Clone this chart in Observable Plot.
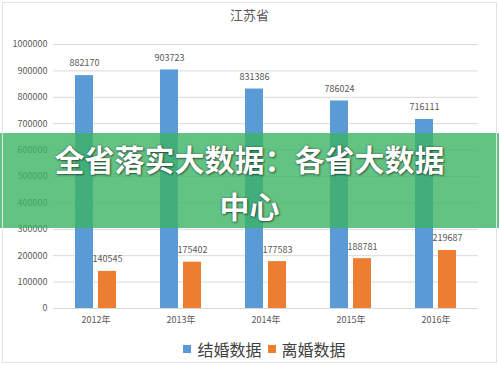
<!DOCTYPE html>
<html>
<head>
<meta charset="utf-8">
<script src="https://cdn.jsdelivr.net/npm/d3@7"></script>
<script src="https://cdn.jsdelivr.net/npm/@observablehq/plot@0.6"></script>
<style>
  html, body { margin: 0; padding: 0; background: #fff; }
  #wrap { position: relative; width: 499px; height: 365px; overflow: hidden; font-family: "Noto Sans CJK SC", "Noto Sans", sans-serif; }
  #frame { position: absolute; left: 2px; top: 2px; right: 2px; bottom: 2px; border: 1px solid #e3e3e3; pointer-events: none; }
  #title { height: 28px; line-height: 30px; text-align: center; font-size: 13px; color: #595959; }
  #legend { height: 32px; display: flex; justify-content: center; align-items: center; gap: 6px; font-size: 16px; color: #404040; padding-left: 30px; }
  #legend .sw { display: inline-block; width: 8px; height: 8px; margin-right: 6px; }
  #legend .item { display: flex; align-items: center; }
  #banner { position: absolute; left: 0; top: 133px; width: 499px; height: 95px; background: rgba(60,180,100,0.8); color: #fff; font-weight: bold; font-size: 30px; text-align: center; text-shadow: 0 0 2px rgba(0,0,0,0.55), 1px 1px 2px rgba(0,0,0,0.45); }
  #banner div { height: 47px; line-height: 50px; }
</style>
</head>
<body>
<div id="wrap">
  <div id="title"></div>
  <div id="chart"></div>
  <div id="legend"></div>
  <div id="banner"></div>
  <div id="frame"></div>
</div>
<script>
const chartTitle = "江苏省";
const years = ["2012年", "2013年", "2014年", "2015年", "2016年"];
const seriesNames = ["结婚数据", "离婚数据"];
const marriages = [882170, 903723, 831386, 786024, 716111];
const divorces = [140545, 175402, 177583, 188781, 219687];
const yTicks = [0, 100000, 200000, 300000, 400000, 500000, 600000, 700000, 800000, 900000, 1000000];
const colors = ["#5b9bd5", "#ed7d31"];
const bannerLines = ["全省落实大数据：各省大数据", "中心"];

const table = [];
years.forEach((yr, i) => {
  table.push({year: yr, series: seriesNames[0], value: marriages[i]});
  table.push({year: yr, series: seriesNames[1], value: divorces[i]});
});

document.getElementById("title").textContent = chartTitle;

const chart = Plot.plot({
  width: 499,
  height: 305,
  marginTop: 16,
  marginBottom: 25,
  marginLeft: 52,
  marginRight: 21,
  style: {fontFamily: "'Noto Sans CJK SC', 'Noto Sans', sans-serif", fontSize: "9px", color: "#595959", background: "transparent"},
  fx: {domain: years, padding: 0, axis: "bottom", tickSize: 0, tickPadding: 8, label: null},
  x: {domain: seriesNames, axis: null, paddingInner: 0.21, paddingOuter: 0.88},
  y: {domain: [0, 1000000], ticks: yTicks, tickFormat: d3.format("d"), tickSize: 0, tickPadding: 6, label: null},
  color: {domain: seriesNames, range: colors},
  marks: [
    Plot.ruleY(yTicks, {stroke: "#d9d9d9", strokeWidth: 1}),
    Plot.barY(table, {fx: "year", x: "series", y: "value", fill: "series"}),
    Plot.text(table, {fx: "year", x: "series", y: "value", text: d => String(d.value), dy: -12, fontSize: 9, fill: "#595959"})
  ]
});
document.getElementById("chart").appendChild(chart);

const legend = document.getElementById("legend");
seriesNames.forEach((s, i) => {
  const item = document.createElement("span");
  item.className = "item";
  const sw = document.createElement("span");
  sw.className = "sw";
  sw.style.background = colors[i];
  item.appendChild(sw);
  item.appendChild(document.createTextNode(s));
  legend.appendChild(item);
});

const banner = document.getElementById("banner");
bannerLines.forEach(t => {
  const d = document.createElement("div");
  d.textContent = t;
  banner.appendChild(d);
});
</script>
</body>
</html>
